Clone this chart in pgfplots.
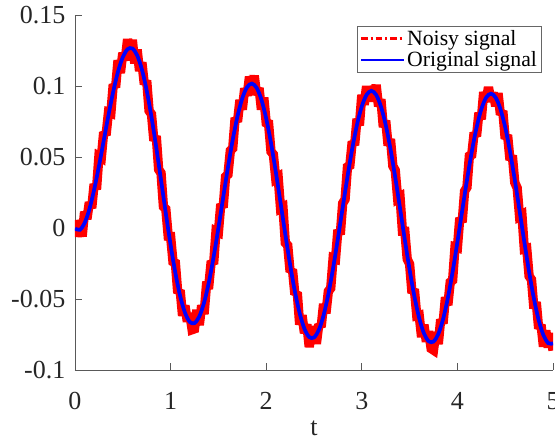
\documentclass[border=0pt]{standalone}
\usepackage{pgfplots}
\pgfplotsset{compat=1.18}
\usepackage{fontspec}
\setmainfont{Liberation Serif}
\pgfplotstableread{
t y
0.000 0.0056
0.025 -0.0059
0.050 0.0017
0.075 -0.0059
0.100 0.0114
0.125 0.0063
0.150 0.0181
0.175 0.0140
0.200 0.0309
0.225 0.0272
0.250 0.0504
0.275 0.0494
0.300 0.0674
0.325 0.0654
0.350 0.0814
0.375 0.0808
0.400 0.1011
0.425 0.0991
0.450 0.1181
0.475 0.1092
0.500 0.1233
0.525 0.1181
0.550 0.1329
0.575 0.1242
0.600 0.1324
0.625 0.1160
0.650 0.1256
0.675 0.1106
0.700 0.1166
0.725 0.1012
0.750 0.1038
0.775 0.0825
0.800 0.0802
0.825 0.0615
0.850 0.0647
0.875 0.0412
0.900 0.0387
0.925 0.0150
0.950 0.0133
0.975 -0.0058
1.000 -0.0059
1.025 -0.0238
1.050 -0.0247
1.075 -0.0458
1.100 -0.0439
1.125 -0.0618
1.150 -0.0546
1.175 -0.0659
1.200 -0.0601
1.225 -0.0716
1.250 -0.0710
1.275 -0.0577
1.300 -0.0684
1.325 -0.0545
1.350 -0.0606
1.375 -0.0405
1.400 -0.0403
1.425 -0.0233
1.450 -0.0253
1.475 -0.0022
1.500 -0.0030
1.525 0.0168
1.550 0.0145
1.575 0.0361
1.600 0.0377
1.625 0.0545
1.650 0.0562
1.675 0.0775
1.700 0.0748
1.725 0.0901
1.750 0.0834
1.775 0.0983
1.800 0.0932
1.825 0.1065
1.850 0.0997
1.875 0.1072
1.900 0.0937
1.925 0.0986
1.950 0.0834
1.975 0.0918
2.000 0.0741
2.025 0.0735
2.050 0.0539
2.075 0.0518
2.100 0.0347
2.125 0.0358
2.150 0.0138
2.175 0.0147
2.200 -0.0105
2.225 -0.0122
2.250 -0.0308
2.275 -0.0293
2.300 -0.0467
2.325 -0.0454
2.350 -0.0680
2.375 -0.0615
2.400 -0.0740
2.425 -0.0679
2.450 -0.0838
2.475 -0.0720
2.500 -0.0721
2.525 -0.0815
2.550 -0.0679
2.575 -0.0697
2.600 -0.0535
2.625 -0.0601
2.650 -0.0446
2.675 -0.0424
2.700 -0.0212
2.725 -0.0218
2.750 -0.0014
2.775 -0.0045
2.800 0.0174
2.825 0.0202
2.850 0.0430
2.875 0.0440
2.900 0.0609
2.925 0.0584
2.950 0.0768
2.975 0.0723
3.000 0.0937
3.025 0.0868
3.050 0.0998
3.075 0.0902
3.100 0.0986
3.125 0.0892
3.150 0.1008
3.175 0.0857
3.200 0.0906
3.225 0.0711
3.250 0.0756
3.275 0.0581
3.300 0.0626
3.325 0.0436
3.350 0.0406
3.375 0.0207
3.400 0.0218
3.425 -0.0023
3.450 -0.0023
3.475 -0.0219
3.500 -0.0254
3.525 -0.0458
3.550 -0.0431
3.575 -0.0618
3.600 -0.0614
3.625 -0.0768
3.650 -0.0682
3.675 -0.0800
3.700 -0.0728
3.725 -0.0849
3.750 -0.0860
3.775 -0.0734
3.800 -0.0817
3.825 -0.0645
3.850 -0.0672
3.875 -0.0488
3.900 -0.0543
3.925 -0.0381
3.950 -0.0368
3.975 -0.0134
4.000 -0.0139
4.025 0.0071
4.050 0.0041
4.075 0.0259
4.100 0.0287
4.125 0.0507
4.150 0.0516
4.175 0.0671
4.200 0.0646
4.225 0.0811
4.250 0.0766
4.275 0.0957
4.300 0.0888
4.325 0.0992
4.350 0.0896
4.375 0.0953
4.400 0.0859
4.425 0.0949
4.450 0.0798
4.475 0.0824
4.500 0.0629
4.525 0.0654
4.550 0.0479
4.575 0.0510
4.600 0.0320
4.625 0.0282
4.650 0.0083
4.675 0.0093
4.700 -0.0148
4.725 -0.0144
4.750 -0.0339
4.775 -0.0363
4.800 -0.0566
4.825 -0.0522
4.850 -0.0708
4.875 -0.0682
4.900 -0.0835
4.925 -0.0723
4.950 -0.0841
4.975 -0.0742
5.000 -0.0863
}\noisy
\pgfplotstableread{
t y
0.00 -0.0004
0.05 -0.0013
0.10 0.0034
0.15 0.0131
0.20 0.0269
0.25 0.0434
0.30 0.0614
0.35 0.0794
0.40 0.0961
0.45 0.1101
0.50 0.1203
0.55 0.1259
0.60 0.1264
0.65 0.1216
0.70 0.1116
0.75 0.0968
0.80 0.0782
0.85 0.0567
0.90 0.0337
0.95 0.0103
1.00 -0.0119
1.05 -0.0317
1.10 -0.0479
1.15 -0.0596
1.20 -0.0661
1.25 -0.0670
1.30 -0.0624
1.35 -0.0526
1.40 -0.0383
1.45 -0.0203
1.50 0.0000
1.55 0.0215
1.60 0.0427
1.65 0.0622
1.70 0.0788
1.75 0.0914
1.80 0.0992
1.85 0.1017
1.90 0.0987
1.95 0.0904
2.00 0.0771
2.05 0.0599
2.10 0.0397
2.15 0.0178
2.20 -0.0045
2.25 -0.0258
2.30 -0.0447
2.35 -0.0600
2.40 -0.0710
2.45 -0.0768
2.50 -0.0771
2.55 -0.0719
2.60 -0.0615
2.65 -0.0466
2.70 -0.0282
2.75 -0.0074
2.80 0.0144
2.85 0.0360
2.90 0.0559
2.95 0.0728
3.00 0.0857
3.05 0.0938
3.10 0.0966
3.15 0.0938
3.20 0.0856
3.25 0.0726
3.30 0.0556
3.35 0.0356
3.40 0.0138
3.45 -0.0083
3.50 -0.0294
3.55 -0.0481
3.60 -0.0634
3.65 -0.0742
3.70 -0.0798
3.75 -0.0800
3.80 -0.0747
3.85 -0.0642
3.90 -0.0493
3.95 -0.0308
4.00 -0.0099
4.05 0.0121
4.10 0.0337
4.15 0.0536
4.20 0.0706
4.25 0.0836
4.30 0.0918
4.35 0.0946
4.40 0.0919
4.45 0.0838
4.50 0.0709
4.55 0.0539
4.60 0.0340
4.65 0.0123
4.70 -0.0098
4.75 -0.0309
4.80 -0.0496
4.85 -0.0648
4.90 -0.0755
4.95 -0.0811
5.00 -0.0813
}\original
\begin{document}
\begin{tikzpicture}
\begin{axis}[
  scale only axis,
  width=358.5pt, height=266.25pt,
  xmin=0, xmax=5, ymin=-0.1, ymax=0.15,
  axis x line*=bottom, axis y line*=left,
  axis line style={black!65, line width=0.6pt},
  tick style={black!65, line width=0.6pt},
  tick align=inside,
  major tick length=5pt,
  xtick={0,1,2,3,4,5},
  xticklabels={0,1,2,3,4,5},
  ytick={-0.1,-0.05,0,0.05,0.1,0.15},
  yticklabels={-0.1,-0.05,0,0.05,0.1,0.15},
  scaled y ticks=false,
  tick label style={font=\fontsize{19.5}{23}\selectfont, text=black!85},
  xticklabel style={anchor=base, inner sep=0pt, yshift=-30pt},
  yticklabel style={anchor=east, inner sep=0pt, xshift=-7pt},
  xlabel={t},
  xlabel style={font=\fontsize{19.5}{23}\selectfont, text=black!85, at={(axis description cs:0.5,0)}, anchor=base, inner sep=0pt, yshift=-49pt},
  legend cell align=left,
  legend style={at={(0.977,0.969)}, anchor=north east, draw=black!60, line width=0.6pt, fill=white,
    font=\fontsize{16.3}{19}\selectfont, inner xsep=2pt, inner ysep=1pt, row sep=-1pt,
    nodes={inner xsep=1.5pt, inner ysep=2pt}},
]
\coordinate (bl) at (rel axis cs:0,0);
\coordinate (tr) at (rel axis cs:1,1);
\addplot[red, line width=7pt, line join=miter, miter limit=2,
  legend image code/.code={\draw[red, line width=2.2pt, dash pattern=on 5pt off 2.2pt on 1.5pt off 2.2pt] (0pt,0pt) -- (32pt,0pt);}]
  table[x=t, y=y] {\noisy};
\addlegendentry{Noisy signal}
\addplot[blue, line width=2.8pt, smooth,
  legend image code/.code={\draw[blue, line width=2.2pt] (0pt,0pt) -- (32pt,0pt);}]
  table[x=t, y=y] {\original};
\addlegendentry{Original signal}
\end{axis}
\pgfresetboundingbox
\path[use as bounding box] ([shift={(-56.25pt,-52.5pt)}]bl) rectangle ([shift={(1.5pt,11.25pt)}]tr);
\end{tikzpicture}
\end{document}
